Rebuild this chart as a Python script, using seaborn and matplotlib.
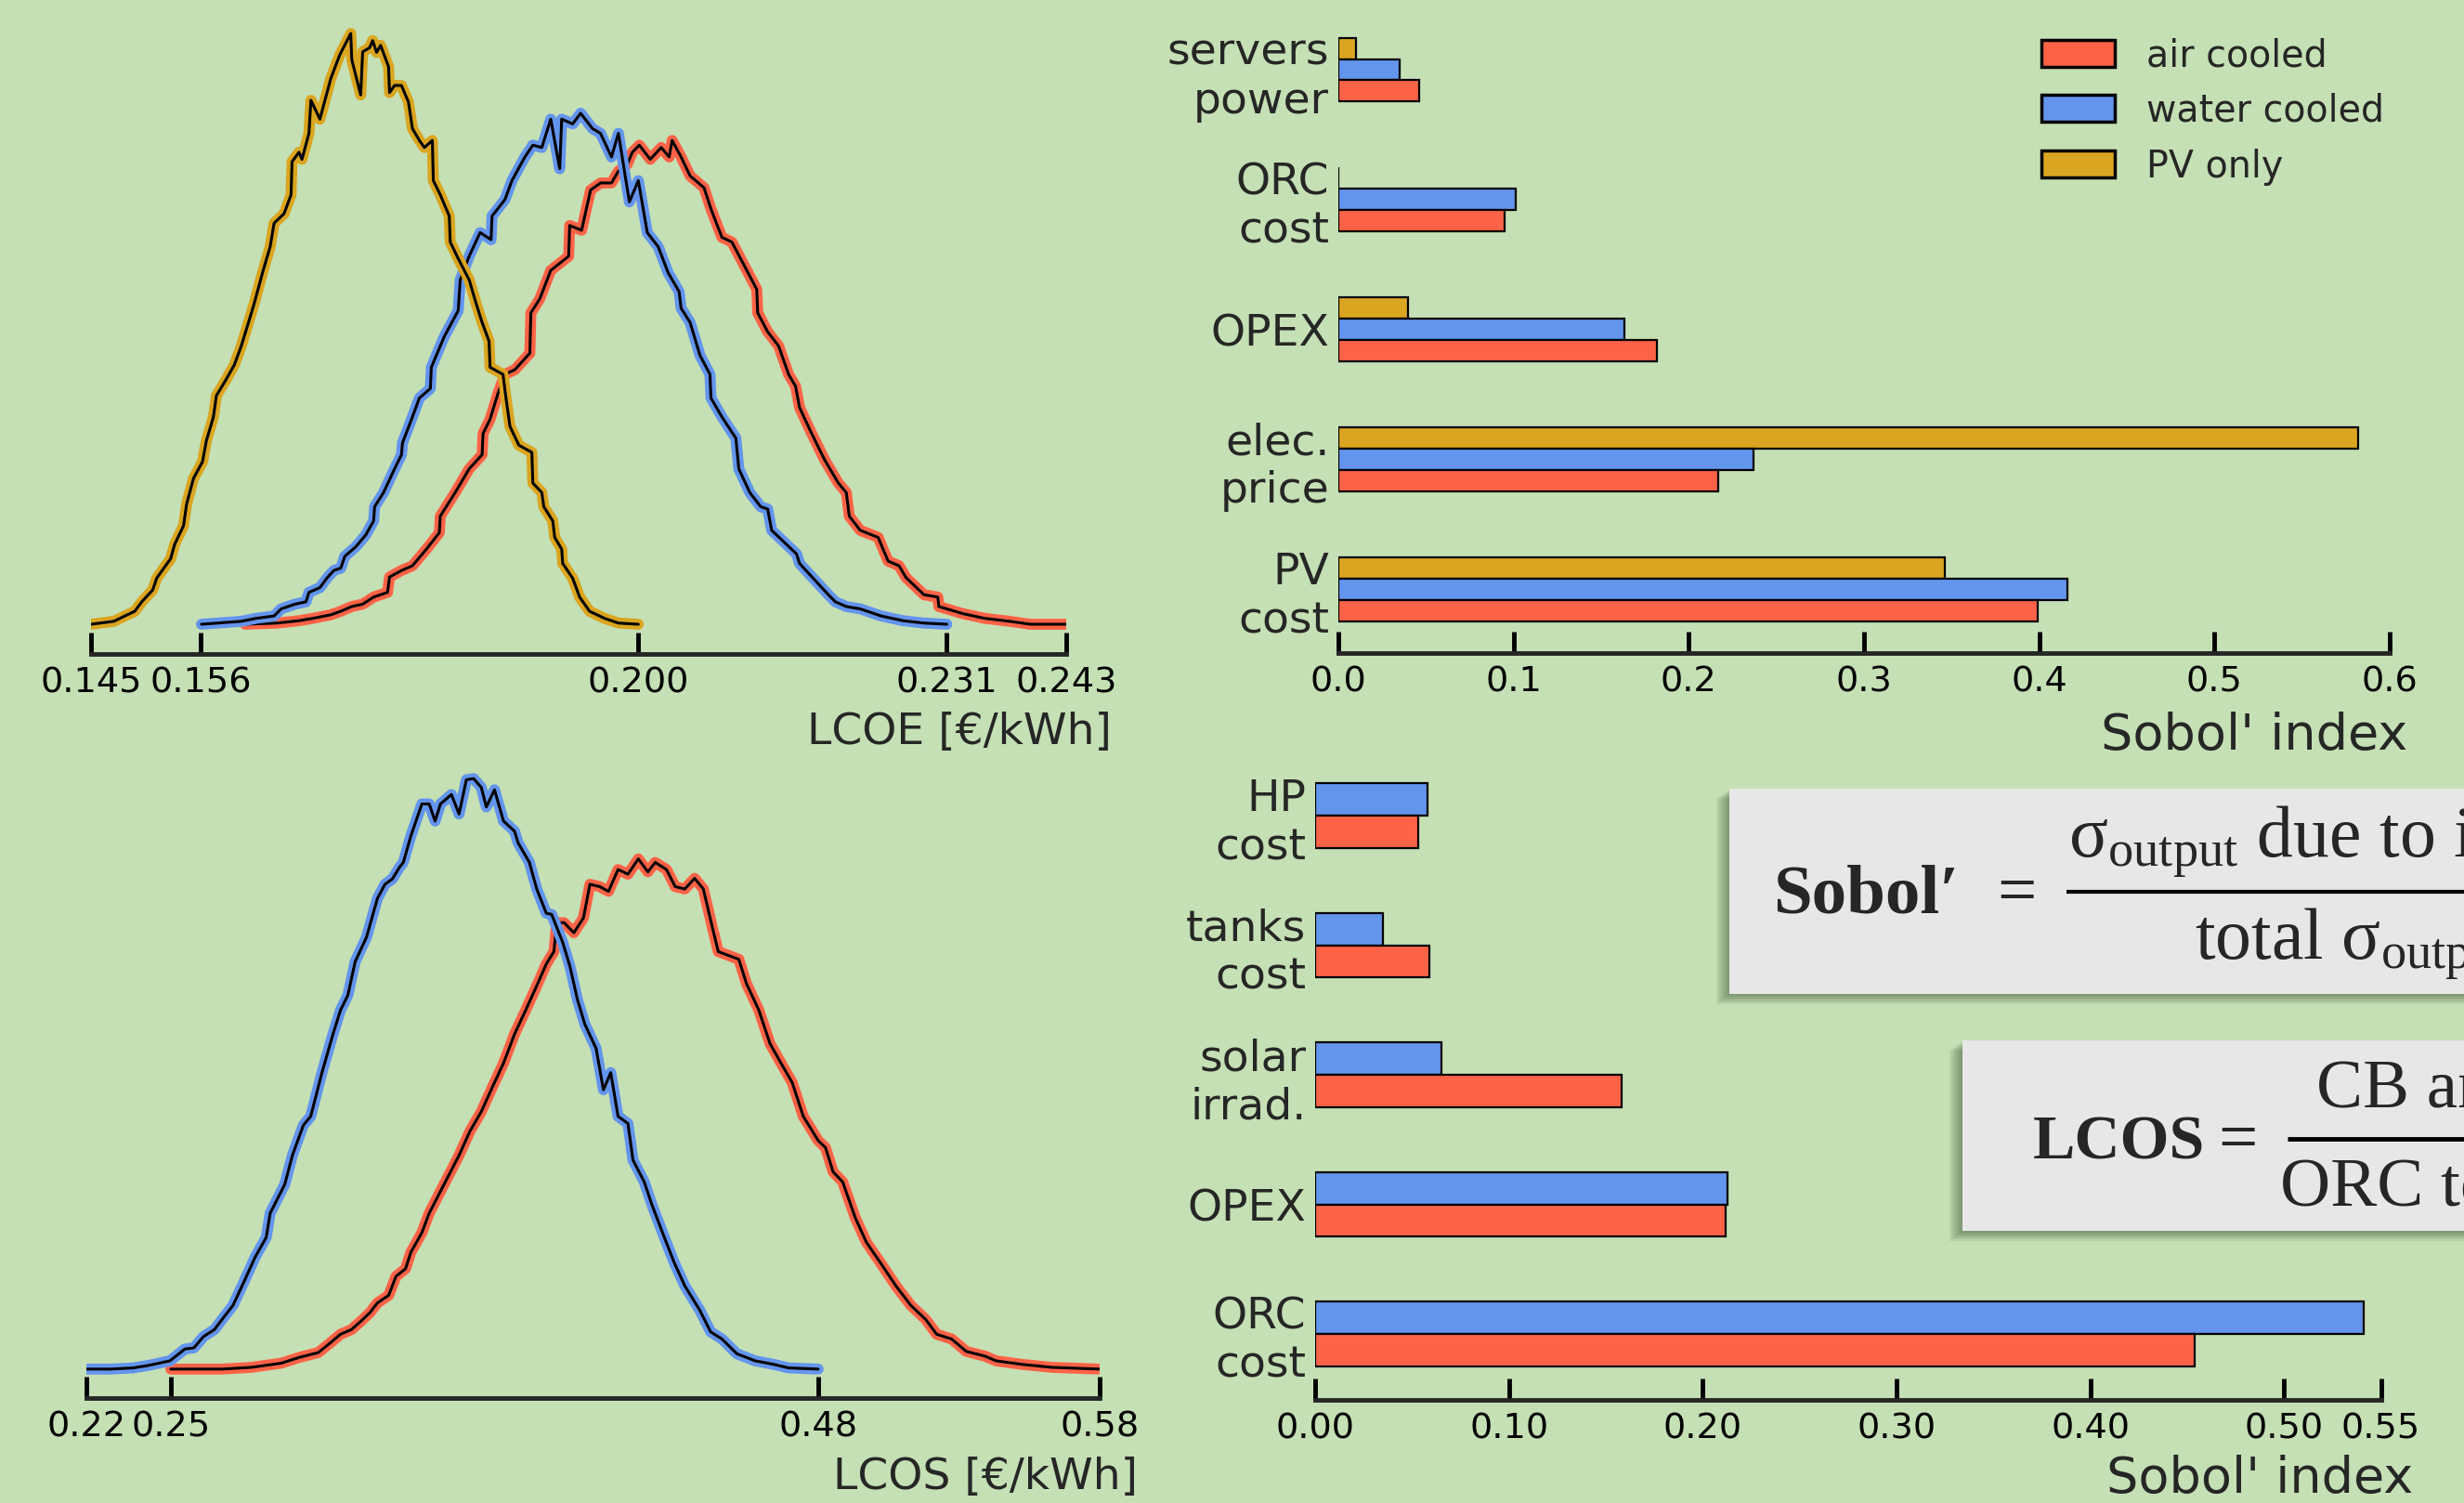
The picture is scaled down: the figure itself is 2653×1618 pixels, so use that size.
import numpy as np
import pandas as pd
import seaborn as sns
import matplotlib.pyplot as plt
from matplotlib.patches import Patch, Rectangle
from matplotlib.lines import Line2D

# colores y estilo general
BG = '#c5e0b4'
C_AIR = 'tomato'
C_WATER = 'cornflowerblue'
C_PV = 'goldenrod'

sns.set_style('ticks')
plt.rcParams['font.family'] = ['DejaVu Sans']
plt.rcParams['mathtext.fontset'] = 'custom'
plt.rcParams['mathtext.rm'] = 'Liberation Serif'
plt.rcParams['mathtext.bf'] = 'Liberation Serif:bold'
plt.rcParams['mathtext.it'] = 'Liberation Serif:italic'
SERIF = ['Liberation Serif', 'DejaVu Serif']

# ---- distribuciones LCOE (frecuencia relativa, pico PV = 100) ----
lcoe_pv_x = [0.1450, 0.1473, 0.1484, 0.1494, 0.1501, 0.1512, 0.1516, 0.1530, 0.1534, 0.1543,
             0.1546, 0.1553, 0.1562, 0.1566, 0.1573, 0.1576, 0.1586, 0.1594, 0.1601, 0.1609,
             0.1614, 0.1623, 0.1630, 0.1634, 0.1644, 0.1651, 0.1652, 0.1659, 0.1662, 0.1669,
             0.1671, 0.1680, 0.1691, 0.1700, 0.1711, 0.1712, 0.1721, 0.1723, 0.1730, 0.1733,
             0.1737, 0.1741, 0.1749, 0.1750, 0.1755, 0.1762, 0.1769, 0.1773, 0.1780, 0.1785,
             0.1793, 0.1794, 0.1801, 0.1810, 0.1811, 0.1819, 0.1830, 0.1837, 0.1843, 0.1850,
             0.1851, 0.1864, 0.1867, 0.1871, 0.1880, 0.1893, 0.1894, 0.1903, 0.1905, 0.1914,
             0.1916, 0.1923, 0.1924, 0.1934, 0.1941, 0.1951, 0.1966, 0.1980, 0.2000]
lcoe_pv_y = [0, 0.5, 1.4, 2.2, 3.8, 5.8, 7.8, 11.1, 13.5, 16.7,
             20.3, 24.7, 27.5, 31.1, 35.1, 38.7, 41.5, 43.9, 47.1, 51.5,
             54.3, 59.9, 63.9, 67.9, 69.5, 72.7, 78.3, 79.9, 78.7, 83.1,
             88.7, 85.5, 92.4, 96.4, 100.0, 95.6, 89.6, 96.9, 97.6, 98.8,
             96.8, 98.0, 94.4, 90.0, 91.2, 91.2, 88.4, 83.9, 81.9, 80.7,
             81.9, 75.1, 72.7, 69.1, 64.7, 61.9, 58.3, 54.3, 51.1, 47.9,
             43.5, 42.3, 38.3, 33.5, 30.3, 29.1, 23.9, 22.3, 19.9, 17.5,
             14.7, 12.7, 10.3, 7.8, 4.6, 2.2, 1.0, 0.2, 0]

lcoe_water_x = [0.1561, 0.1601, 0.1616, 0.1634, 0.1641, 0.1655, 0.1666, 0.1669, 0.1680, 0.1687,
                0.1694, 0.1701, 0.1705, 0.1716, 0.1726, 0.1734, 0.1735, 0.1744, 0.1755, 0.1762,
                0.1763, 0.1773, 0.1780, 0.1791, 0.1792, 0.1805, 0.1819, 0.1821, 0.1830, 0.1841,
                0.1852, 0.1853, 0.1866, 0.1873, 0.1886, 0.1894, 0.1903, 0.1912, 0.1921, 0.1923,
                0.1934, 0.1942, 0.1954, 0.1962, 0.1973, 0.1980, 0.1991, 0.2000, 0.2009, 0.2020,
                0.2030, 0.2041, 0.2043, 0.2052, 0.2062, 0.2072, 0.2073, 0.2084, 0.2098, 0.2101,
                0.2112, 0.2123, 0.2130, 0.2134, 0.2144, 0.2159, 0.2162, 0.2180, 0.2191, 0.2198,
                0.2209, 0.2223, 0.2244, 0.2266, 0.2287, 0.2310]
lcoe_water_y = [0, 0.5, 1.0, 1.4, 2.6, 3.4, 3.8, 5.4, 6.2, 7.8,
                9.1, 9.5, 11.5, 13.1, 15.1, 17.5, 19.9, 22.3, 26.3, 28.7,
                30.7, 35.1, 38.3, 39.9, 43.5, 48.7, 53.1, 58.3, 62.3, 66.3,
                65.1, 69.1, 71.9, 75.1, 79.1, 81.1, 80.7, 85.5, 77.1, 85.5,
                84.7, 86.5, 83.9, 83.1, 79.1, 83.1, 71.5, 75.1, 66.3, 63.9,
                59.5, 56.3, 53.5, 51.1, 45.5, 42.3, 38.3, 35.1, 31.5, 26.3,
                22.3, 19.9, 19.5, 15.9, 14.3, 11.9, 10.3, 7.0, 5.0, 3.8,
                3.0, 2.6, 1.4, 0.6, 0.2, 0]

lcoe_air_x = [0.1605, 0.1637, 0.1659, 0.1673, 0.1691, 0.1701, 0.1712, 0.1723, 0.1734, 0.1748,
              0.1750, 0.1762, 0.1773, 0.1787, 0.1800, 0.1801, 0.1816, 0.1830, 0.1843, 0.1844,
              0.1851, 0.1859, 0.1866, 0.1876, 0.1891, 0.1892, 0.1901, 0.1912, 0.1930, 0.1931,
              0.1943, 0.1952, 0.1962, 0.1973, 0.1980, 0.1989, 0.1994, 0.2001, 0.2012, 0.2023,
              0.2031, 0.2034, 0.2043, 0.2052, 0.2066, 0.2073, 0.2084, 0.2094, 0.2109, 0.2119,
              0.2120, 0.2130, 0.2141, 0.2151, 0.2158, 0.2162, 0.2173, 0.2187, 0.2201, 0.2209,
              0.2212, 0.2223, 0.2241, 0.2251, 0.2262, 0.2269, 0.2287, 0.2301, 0.2302, 0.2326,
              0.2348, 0.2373, 0.2394, 0.2430]
lcoe_air_y = [0, 0.2, 0.6, 1.0, 1.6, 2.2, 3.0, 3.4, 4.6, 5.4,
              8.0, 9.1, 9.9, 12.7, 15.5, 18.3, 22.3, 26.3, 28.7, 32.3,
              34.7, 39.1, 42.3, 43.1, 45.9, 52.7, 55.1, 59.9, 62.3, 67.5,
              66.7, 73.5, 74.7, 74.7, 76.7, 77.9, 79.9, 81.1, 78.7, 80.7,
              79.1, 81.9, 79.1, 75.9, 73.9, 70.3, 65.5, 64.7, 59.9, 56.7,
              52.7, 49.5, 47.1, 42.3, 40.3, 36.7, 32.7, 27.9, 23.9, 22.3,
              18.3, 15.9, 14.7, 10.7, 9.9, 7.9, 5.0, 4.6, 3.0, 1.8,
              1.0, 0.5, 0, 0]

# ---- distribuciones LCOS (pico water = 100) ----
lcos_water_x = [0.2200, 0.2287, 0.2366, 0.2418, 0.2497, 0.2550, 0.2582, 0.2616, 0.2655, 0.2682,
                0.2721, 0.2761, 0.2800, 0.2839, 0.2853, 0.2905, 0.2932, 0.2971, 0.2997, 0.3037,
                0.3076, 0.3103, 0.3129, 0.3155, 0.3195, 0.3234, 0.3261, 0.3287, 0.3313, 0.3326,
                0.3353, 0.3392, 0.3418, 0.3439, 0.3458, 0.3497, 0.3524, 0.3550, 0.3576, 0.3603,
                0.3621, 0.3650, 0.3682, 0.3721, 0.3734, 0.3774, 0.3800, 0.3834, 0.3853, 0.3892,
                0.3918, 0.3945, 0.3971, 0.4011, 0.4037, 0.4063, 0.4089, 0.4124, 0.4142, 0.4182,
                0.4208, 0.4247, 0.4287, 0.4326, 0.4379, 0.4418, 0.4458, 0.4511, 0.4576, 0.4642,
                0.4695, 0.4800]
lcos_water_y = [0, 0, 0.2, 0.6, 1.4, 3.4, 3.6, 5.5, 6.7, 8.4,
                10.8, 14.9, 19.0, 22.3, 26.4, 31.3, 36.2, 41.3, 42.8, 50.2,
                56.7, 60.8, 63.3, 69.0, 73.1, 79.7, 82.1, 83.0, 85.0, 85.8,
                90.3, 95.7, 95.7, 92.8, 95.7, 97.3, 94.0, 99.8, 100.0, 98.5,
                95.2, 98.1, 92.8, 91.1, 89.1, 85.8, 81.3, 77.2, 77.0, 72.3,
                68.2, 62.5, 58.4, 54.3, 47.3, 50.2, 42.8, 41.6, 35.4, 31.7,
                28.0, 23.1, 18.2, 14.1, 10.0, 6.3, 5.1, 2.6, 1.4, 0.8,
                0.2, 0]

lcos_air_x = [0.2500, 0.2682, 0.2787, 0.2892, 0.2958, 0.3024, 0.3063, 0.3103, 0.3142, 0.3182,
              0.3208, 0.3234, 0.3274, 0.3300, 0.3334, 0.3353, 0.3392, 0.3418, 0.3471, 0.3524,
              0.3563, 0.3603, 0.3642, 0.3682, 0.3721, 0.3761, 0.3800, 0.3834, 0.3861, 0.3871,
              0.3897, 0.3932, 0.3966, 0.3989, 0.4024, 0.4055, 0.4089, 0.4124, 0.4161, 0.4195,
              0.4221, 0.4261, 0.4292, 0.4326, 0.4361, 0.4392, 0.4424, 0.4445, 0.4518, 0.4545,
              0.4589, 0.4629, 0.4668, 0.4708, 0.4747, 0.4800, 0.4826, 0.4853, 0.4887, 0.4932,
              0.4971, 0.5024, 0.5076, 0.5129, 0.5182, 0.5221, 0.5274, 0.5326, 0.5392, 0.5432,
              0.5524, 0.5629, 0.5800]
lcos_air_y = [0, 0, 0.3, 1.0, 2.0, 2.8, 4.3, 5.9, 6.7, 8.4,
              9.6, 11.2, 12.5, 15.7, 17.0, 19.8, 23.1, 26.4, 31.3, 36.2,
              40.3, 43.6, 47.7, 51.8, 56.7, 60.8, 64.9, 68.6, 70.7, 75.6,
              75.6, 73.9, 76.4, 82.1, 81.7, 80.9, 84.6, 83.8, 86.4, 84.2,
              85.8, 84.6, 81.7, 81.3, 83.1, 81.3, 74.8, 70.7, 69.4, 65.3,
              60.8, 55.1, 51.8, 48.5, 42.8, 38.7, 37.5, 33.4, 31.7, 25.6,
              21.5, 17.8, 14.1, 10.8, 8.4, 5.9, 5.1, 3.0, 2.2, 1.4,
              0.8, 0.3, 0]

lcoe_ticks = [0.145, 0.156, 0.200, 0.231, 0.243]
lcos_ticks = [0.22, 0.25, 0.48, 0.58]

# ---- indices de Sobol ----
factors_lcoe = ['servers\npower', 'ORC\ncost', 'OPEX', 'elec.\nprice', 'PV\ncost']
sobol_lcoe_air = [0.046, 0.095, 0.182, 0.217, 0.399]
sobol_lcoe_water = [0.035, 0.101, 0.163, 0.237, 0.416]
sobol_lcoe_pv = [0.010, 0.0, 0.040, 0.582, 0.346]

factors_lcos = ['HP\ncost', 'tanks\ncost', 'solar\nirrad.', 'OPEX', 'ORC\ncost']
sobol_lcos_air = [0.053, 0.059, 0.158, 0.212, 0.454]
sobol_lcos_water = [0.058, 0.035, 0.065, 0.213, 0.541]

sobol_ticks_lcoe = [0.0, 0.1, 0.2, 0.3, 0.4, 0.5, 0.6]
sobol_ticks_lcos = [0.0, 0.1, 0.2, 0.3, 0.4, 0.5, 0.55]

W, H = 2653, 1618
fig = plt.figure(figsize=(W / 100, H / 100), dpi=100, facecolor=BG)


def fx(px):
    return px / W


def fy(px):
    return 1 - px / H


def px_axes(x0, y_top, x1, y_bot):
    # rectangulo en pixeles (origen arriba a la izquierda) -> fraccion de figura
    return fig.add_axes([fx(x0), fy(y_bot), (x1 - x0) / W, (y_bot - y_top) / H])


def estilo_eje_x(ax):
    ax.patch.set_alpha(0)
    for s in ['top', 'right', 'left']:
        ax.spines[s].set_visible(False)
    ax.spines['bottom'].set_linewidth(3.5)
    ax.tick_params(axis='x', direction='in', length=16.5, width=3.5,
                   labelsize=27.5, pad=10, colors='black')


def hist_linea(ax, x, y, color):
    sns.lineplot(x=x, y=y, ax=ax, color=color, linewidth=8.5, estimator=None, sort=False)
    sns.lineplot(x=x, y=y, ax=ax, color='black', linewidth=2.2, estimator=None, sort=False)


# LCOE
ax1 = px_axes(98, 10, 1148, 704)
hist_linea(ax1, lcoe_air_x, lcoe_air_y, C_AIR)
hist_linea(ax1, lcoe_water_x, lcoe_water_y, C_WATER)
hist_linea(ax1, lcoe_pv_x, lcoe_pv_y, C_PV)
ax1.set_xlim(0.145, 0.243)
ax1.set_ylim(-5.03, 104.1)
ax1.set_yticks([])
ax1.set_xticks(lcoe_ticks, [f'{t:.3f}' for t in lcoe_ticks])
estilo_eje_x(ax1)
ax1.set_ylabel('')
ax1.set_xlabel('LCOE [€/kWh]', fontsize=34, ha='right', va='baseline')
ax1.xaxis.set_label_coords(1.0467, -0.1398)

# LCOS
ax2 = px_axes(93, 800, 1184, 1505)
hist_linea(ax2, lcos_air_x, lcos_air_y, C_AIR)
hist_linea(ax2, lcos_water_x, lcos_water_y, C_WATER)
ax2.set_xlim(0.22, 0.58)
ax2.set_ylim(-4.9, 106.0)
ax2.set_yticks([])
ax2.set_xticks(lcos_ticks, [f'{t:.2f}' for t in lcos_ticks])
estilo_eje_x(ax2)
ax2.set_ylabel('')
ax2.set_xlabel('LCOS [€/kWh]', fontsize=34, ha='right', va='baseline')
ax2.xaxis.set_label_coords(1.0376, -0.139)

# Sobol LCOE
df_lcoe = pd.DataFrame({
    'factor': factors_lcoe * 3,
    'sobol': sobol_lcoe_pv + sobol_lcoe_water + sobol_lcoe_air,
    'caso': ['PV only'] * 5 + ['water cooled'] * 5 + ['air cooled'] * 5,
})
ax3 = px_axes(1441, 10, 2573, 703)
sns.barplot(data=df_lcoe, y='factor', x='sobol', hue='caso',
            hue_order=['PV only', 'water cooled', 'air cooled'],
            palette=[C_PV, C_WATER, C_AIR], orient='h', width=0.493,
            edgecolor='black', linewidth=1.6, errorbar=None, legend=False,
            saturation=1, ax=ax3)
ax3.set_xlim(0, 0.6)
ax3.set_ylim(4.493, -0.465)
ax3.set_xticks(sobol_ticks_lcoe, [f'{t:.1f}' for t in sobol_ticks_lcoe])
estilo_eje_x(ax3)
ax3.tick_params(axis='y', length=0, labelsize=34, pad=7)
ax3.set_ylabel('')
ax3.set_xlabel("Sobol' index", fontsize=39, ha='right', va='baseline')
ax3.xaxis.set_label_coords(1.0168, -0.150)

handles = [Patch(facecolor=C_AIR, edgecolor='black', linewidth=2.5),
           Patch(facecolor=C_WATER, edgecolor='black', linewidth=2.5),
           Patch(facecolor=C_PV, edgecolor='black', linewidth=2.5)]
fig.legend(handles, ['air cooled', 'water cooled', 'PV only'], loc='upper left',
           bbox_to_anchor=(fx(2198), fy(40)), frameon=False, fontsize=28.5,
           handlelength=2.0, handleheight=0.75, handletextpad=0.85,
           labelspacing=0.5, borderpad=0, borderaxespad=0)

# Sobol LCOS
df_lcos = pd.DataFrame({
    'factor': factors_lcos * 2,
    'sobol': sobol_lcos_water + sobol_lcos_air,
    'caso': ['water cooled'] * 5 + ['air cooled'] * 5,
})
ax4 = px_axes(1416, 820, 2563.5, 1507)
sns.barplot(data=df_lcos, y='factor', x='sobol', hue='caso',
            hue_order=['water cooled', 'air cooled'],
            palette=[C_WATER, C_AIR], orient='h', width=0.5,
            edgecolor='black', linewidth=1.6, errorbar=None, legend=False,
            saturation=1, ax=ax4)
ax4.set_xlim(0, 0.55)
ax4.set_ylim(4.509, -0.416)
ax4.set_xticks(sobol_ticks_lcos, [f'{t:.2f}' for t in sobol_ticks_lcos])
estilo_eje_x(ax4)
ax4.tick_params(axis='y', length=0, labelsize=34, pad=7)
ax4.set_ylabel('')
ax4.set_xlabel("Sobol' index", fontsize=39, ha='right', va='baseline')
ax4.xaxis.set_label_coords(1.030, -0.146)


# cajas con formulas (cortadas por el borde derecho)
def caja(x0, y0, x1, y1):
    for k in range(1, 8):
        fig.add_artist(Rectangle((fx(x0 - 2 * k), fy(y1 + 1.5 * k)),
                                 (x1 - x0) / W, (y1 - y0) / H,
                                 transform=fig.transFigure, facecolor='#3f5238',
                                 edgecolor='none', alpha=0.09, zorder=1))
    fig.add_artist(Rectangle((fx(x0), fy(y1)), (x1 - x0) / W, (y1 - y0) / H,
                             transform=fig.transFigure, facecolor='#e7e7e7',
                             edgecolor='none', zorder=2))


def texto(x, y, s, bold=False, size=54):
    fig.text(fx(x), fy(y), s, fontsize=size, family=SERIF, ha='left', va='baseline',
             fontweight='bold' if bold else 'normal', zorder=3)


def raya(x0, x1, y, lw):
    fig.add_artist(Line2D([fx(x0), fx(x1)], [fy(y), fy(y)], transform=fig.transFigure,
                          color='black', linewidth=lw, solid_capstyle='butt', zorder=3))


caja(1862, 849, 2720, 1070)
texto(1909, 982, 'Sobol′', bold=True)
texto(2150, 982, '=')
raya(2225, 2720, 960, 3)
texto(2227, 922, r'$\mathrm{σ}_{\mathrm{output}}$ due to input', size=56)
texto(2363, 1032, r'total $\mathrm{σ}_{\mathrm{output}}$', size=56)

caja(2113, 1120, 2720, 1325)
texto(2189, 1248, 'LCOS', bold=True, size=49)
texto(2388, 1248, '=')
raya(2463, 2720, 1226, 3.5)
texto(2494, 1192, 'CB and tanks cost')
texto(2455, 1298, 'ORC total output')

fig.savefig('out.png', dpi=100, facecolor=BG)
